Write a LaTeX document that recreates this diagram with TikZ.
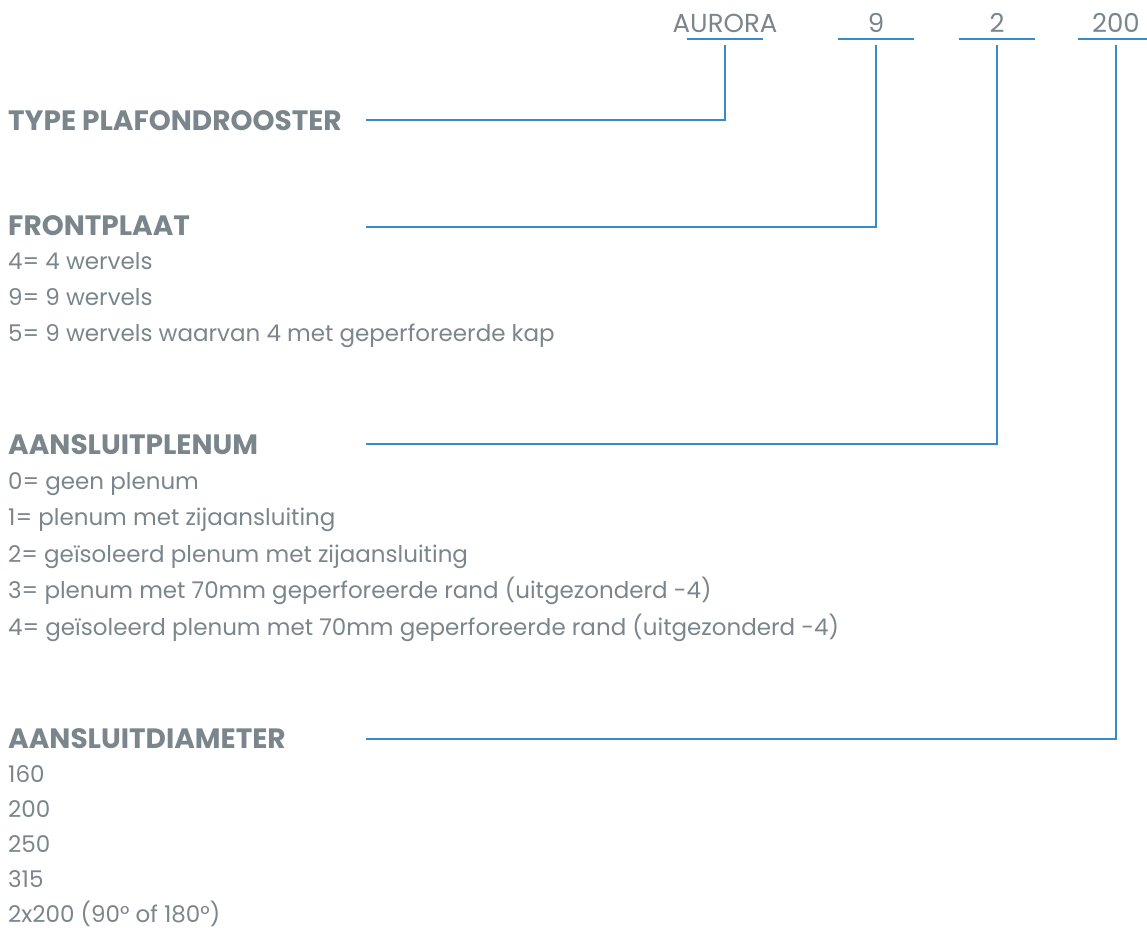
\documentclass[tikz,border=0pt]{standalone}
\usepackage{fontspec}
\setmainfont{Poppins}
\usepackage{xcolor}
\usepackage{tikz}
\usetikzlibrary{calc}
\definecolor{tekstgrijs}{RGB}{122,134,140}
\definecolor{lijnblauw}{RGB}{58,137,201}
\tikzset{
  leader/.style={lijnblauw, line width=2.6pt},
  code/.style={text=tekstgrijs, font=\fontsize{26}{28}\selectfont, inner sep=0pt, anchor=base},
  kop/.style={text=tekstgrijs, font=\fontsize{28}{30}\selectfont\bfseries, inner sep=0pt, anchor=base west},
  optie/.style={text=tekstgrijs, font=\fontsize{23}{25}\selectfont, inner sep=0pt, anchor=base west}
}
\begin{document}
\begin{tikzpicture}[x=1pt, y=-1pt]
        \useasboundingbox (0,0) rectangle (1147,943);
        %CODE
        \node[code] (aurora) at (725,32) {AURORA};
        \node[code] (front) at (876,32) {9};
        \node[code] (plenum) at (997,32) {2};
        \node[code] (diam) at (1116,32) {200};
        \draw[leader] (687,39) -- (763,39);
        \draw[leader] (838,39) -- (914,39);
        \draw[leader] (959,39) -- (1035,39);
        \draw[leader] (1078,39) -- (1154,39);
        %TYPE PLAFONDROOSTER
        \node[kop] (typekop) at (8,130) {TYPE PLAFONDROOSTER};
        \coordinate (typeeind) at (366,120);
        \coordinate (auroravoet) at (725,45);
        \draw[leader] (auroravoet) |- (typeeind);
        %FRONTPLAAT
        \node[kop] (frontkop) at (8,235) {FRONTPLAAT};
        \node[optie] (front4) at (8,269) {4= 4 wervels};
        \node[optie] (front9) at (8,305) {9= 9 wervels};
        \node[optie] (front5) at (8,341) {5= 9 wervels waarvan 4 met geperforeerde kap};
        \coordinate (fronteind) at (366,227);
        \coordinate (frontvoet) at (876,45);
        \draw[leader] (frontvoet) |- (fronteind);
        %AANSLUITPLENUM
        \node[kop] (plenumkop) at (8,454) {AANSLUITPLENUM};
        \node[optie] (plenum0) at (8,489) {0= geen plenum};
        \node[optie] (plenum1) at (8,525) {1= plenum met zijaansluiting};
        \node[optie] (plenum2) at (8,562) {2= geïsoleerd plenum met zijaansluiting};
        \node[optie] (plenum3) at (8,598) {3= plenum met 70mm geperforeerde rand (uitgezonderd -4)};
        \node[optie] (plenum4) at (8,635) {4= geïsoleerd plenum met 70mm geperforeerde rand (uitgezonderd -4)};
        \coordinate (plenumeind) at (366,444);
        \coordinate (plenumvoet) at (997,45);
        \draw[leader] (plenumvoet) |- (plenumeind);
        %AANSLUITDIAMETER
        \node[kop] (diamkop) at (8,748) {AANSLUITDIAMETER};
        \node[optie] (diam160) at (8,782) {160};
        \node[optie] (diam200) at (8,817) {200};
        \node[optie] (diam250) at (8,852) {250};
        \node[optie] (diam315) at (8,887) {315};
        \node[optie] (diam2x) at (8,922) {2x200 (90° of 180°)};
        \coordinate (diameind) at (366,739);
        \coordinate (diamvoet) at (1116,45);
        \draw[leader] (diamvoet) |- (diameind);
    \end{tikzpicture}
\end{document}
